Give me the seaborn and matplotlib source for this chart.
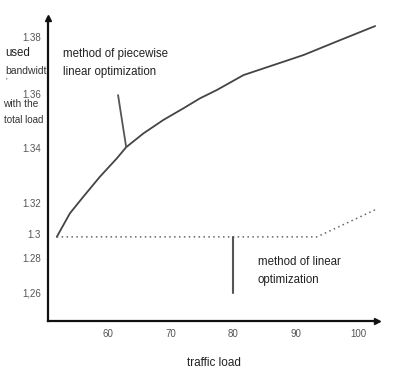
import numpy as np
import pandas as pd
import matplotlib
matplotlib.use("Agg")
import matplotlib.pyplot as plt
import seaborn as sns

# ---- data ----
pw_x = [51.8, 53.9, 56.05, 58.7, 61.4, 62.9, 65.65, 68.85, 72.05, 74.7, 77.4, 81.65, 86.45, 91.25, 97.1, 102.7]
pw_y = [1.2976, 1.3132, 1.3222, 1.3295, 1.3362, 1.3403, 1.3454, 1.3504, 1.3547, 1.3584,
        1.3614, 1.3666, 1.3701, 1.3736, 1.3788, 1.3837]
lin_x = [51.8, 93.4, 103.0]
lin_y = [1.2976, 1.2976, 1.3160]
x_ticks = [60, 70, 80, 90, 100]
x_labels = ["60", "70", "80", "90", "100"]
y_ticks = [1.26, 1.28, 1.30, 1.32, 1.34, 1.36, 1.38]
y_labels = ["1,26", "1.28", "1.3", "1.32", "1.34", "1.36", "1.38"]

# irregular hand-drawn y spacing (value -> vertical position)
scale_vals = [1.244, 1.26, 1.28, 1.30, 1.32, 1.34, 1.36, 1.38, 1.3865]
scale_pos = [0, 28, 63, 87, 118.3, 173, 227, 284.3, 303]

def fwd(v):
    return np.interp(v, scale_vals, scale_pos)

def inv(p):
    return np.interp(p, scale_pos, scale_vals)

sns.set_style("white")
plt.rcParams['font.family'] = ['Liberation Sans', 'DejaVu Sans']

W, H = 393, 372
fig = plt.figure(figsize=(W / 100, H / 100), dpi=100)
ax = fig.add_axes([48 / W, 1 - 321 / H, (377 - 48) / W, (321 - 18) / H])
ax.set_yscale('function', functions=(fwd, inv))

df_pw = pd.DataFrame({"x": pw_x, "y": pw_y})
df_lin = pd.DataFrame({"x": lin_x, "y": lin_y})
sns.lineplot(data=df_pw, x="x", y="y", ax=ax, color="#444444", lw=1.3, sort=False)
sns.lineplot(data=df_lin, x="x", y="y", ax=ax, color="#666666", lw=1.1, sort=False,
             linestyle=(0, (1, 2.2)))

ax.set_xlim(50.4, 103)
ax.set_ylim(1.244, 1.3865)

ax.set_xticks(x_ticks)
ax.set_xticklabels(x_labels)
ax.set_yticks(y_ticks)
ax.set_yticklabels(y_labels)
ax.tick_params(axis='both', length=0, labelsize=7, colors="#555555")
ax.tick_params(axis='x', pad=6)
ax.tick_params(axis='y', pad=5)
ax.set_xlabel("")
ax.set_ylabel("")

for s in ["top", "right"]:
    ax.spines[s].set_visible(False)
for s in ["left", "bottom"]:
    ax.spines[s].set_color("#111111")
    ax.spines[s].set_linewidth(1.6)
ax.plot(1, 0, ">", color="#111111", ms=5, transform=ax.transAxes, clip_on=False)
ax.plot(0, 1, "^", color="#111111", ms=5, transform=ax.transAxes, clip_on=False)

# pointer lines
ax.plot([61.6, 62.9], [1.3596, 1.3403], color="#555555", lw=1.3)
ax.plot([80.0, 80.0], [1.2976, 1.2600], color="#555555", lw=1.5)

def ftext(x, y, s, **kw):
    fig.text(x / W, 1 - y / H, s, **kw)

ftext(63, 63, "method of piecewise\nlinear optimization", fontsize=8.3, color="#222222",
      va="center", ha="left", linespacing=1.6)
ftext(258, 271, "method of linear\noptimization", fontsize=8.3, color="#222222",
      va="center", ha="left", linespacing=1.6)
ftext(214, 363, "traffic load", fontsize=8.5, color="#222222", va="center", ha="center")

ftext(5, 53, "used", fontsize=8.3, color="#222222", va="center", ha="left")
ftext(5, 71, "bandwidt", fontsize=7.5, color="#333333", va="center", ha="left")
ftext(5, 81, "'", fontsize=6, color="#333333", va="center", ha="left")
ftext(3, 104, "with the", fontsize=7.3, color="#333333", va="center", ha="left")
ftext(4, 120, "total load", fontsize=7, color="#333333", va="center", ha="left")

fig.savefig("out.png", dpi=100)
